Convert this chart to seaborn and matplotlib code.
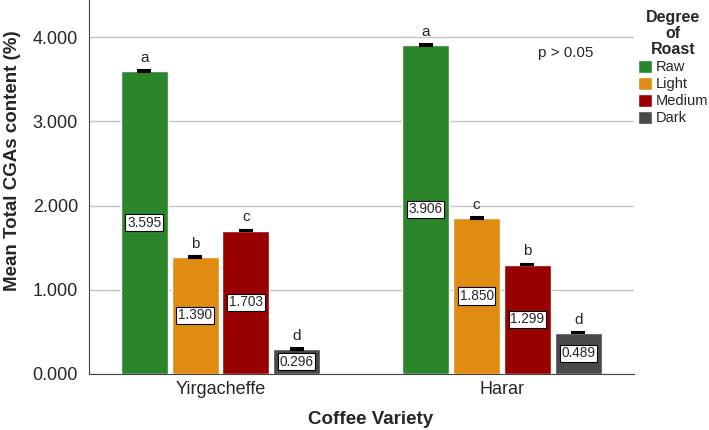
import matplotlib
matplotlib.use("Agg")
from matplotlib import pyplot as plt
import seaborn as sns
import pandas as pd

varieties = ["Yirgacheffe", "Harar"]
roasts = ["Raw", "Light", "Medium", "Dark"]
values = {
    "Yirgacheffe": [3.595, 1.390, 1.703, 0.296],
    "Harar": [3.906, 1.850, 1.299, 0.489],
}
errors = {
    "Yirgacheffe": [0.012, 0.010, 0.010, 0.008],
    "Harar": [0.012, 0.010, 0.008, 0.008],
}
letters = {
    "Yirgacheffe": ["a", "b", "c", "d"],
    "Harar": ["a", "c", "b", "d"],
}
colors = ["#2b862b", "#e08b12", "#990000", "#48494b"]

rows = []
for v in varieties:
    for r, val in zip(roasts, values[v]):
        rows.append({"variety": v, "roast": r, "value": val})
df = pd.DataFrame(rows)

sns.set_style("white")
plt.rcParams["font.family"] = ["Liberation Sans", "DejaVu Sans"]

fig, ax = plt.subplots(figsize=(7.09, 4.30), dpi=100)
fig.subplots_adjust(left=89 / 709, right=634 / 709, bottom=56 / 430, top=1.0)

sns.barplot(data=df, x="variety", y="value", hue="roast", order=varieties,
            hue_order=roasts, palette=colors, width=0.722, gap=0.075,
            errorbar=None, saturation=1, ax=ax, zorder=2)

for i, r in enumerate(roasts):
    cont = ax.containers[i]
    for j, v in enumerate(varieties):
        bar = cont[j]
        x = bar.get_x() + bar.get_width() / 2
        h = values[v][i]
        ax.errorbar(x, h, yerr=errors[v][i], color="black", capsize=5,
                    capthick=1.5, elinewidth=1, zorder=3)
        ax.text(x, h + 0.11, letters[v][i], ha="center", va="baseline", fontsize=11)
        ax.text(x, h / 2, f"{h:.3f}", ha="center", va="center", fontsize=9.8,
                bbox=dict(boxstyle="square,pad=0.12", fc="white", ec="black", lw=0.8),
                zorder=4)

ax.set_ylim(0, 4.44)
ax.set_xlim(-0.467, 1.469)
ax.set_yticks([0, 1, 2, 3, 4])
ax.set_yticklabels(["0.000", "1.000", "2.000", "3.000", "4.000"], fontsize=13)
ax.tick_params(axis="x", labelsize=13, length=0, pad=5)
ax.tick_params(axis="y", length=0, pad=8)
ax.yaxis.grid(True, color="#c4c4c4", linewidth=1)
ax.set_axisbelow(True)
for s in ["top", "right"]:
    ax.spines[s].set_visible(False)
for s in ["left", "bottom"]:
    ax.spines[s].set_color("#444444")

ax.set_xlabel("Coffee Variety", fontsize=13.5, fontweight="bold")
ax.xaxis.set_label_coords(0.517, -0.1)
ax.set_ylabel("Mean Total CGAs content (%)", fontsize=13.5, fontweight="bold")
ax.yaxis.set_label_coords(-0.124, 0.57)

ax.text(1.227, 3.81, "p > 0.05", ha="center", va="center", fontsize=11)

leg = ax.legend(title="Degree\nof\nRoast", loc="upper left",
                bbox_to_anchor=(638 / 709, 1 - 10 / 430),
                bbox_transform=fig.transFigure,
                frameon=False, fontsize=10.5, handlelength=0.95, handleheight=0.95,
                handletextpad=0.28, labelspacing=0.18, borderpad=0, borderaxespad=0)
leg.get_title().set_fontweight("bold")
leg.get_title().set_fontsize(11.5)
leg.get_title().set_multialignment("center")
leg.get_title().set_linespacing(1.1)
leg._legend_box.sep = 2

fig.savefig("out.png", dpi=100)
